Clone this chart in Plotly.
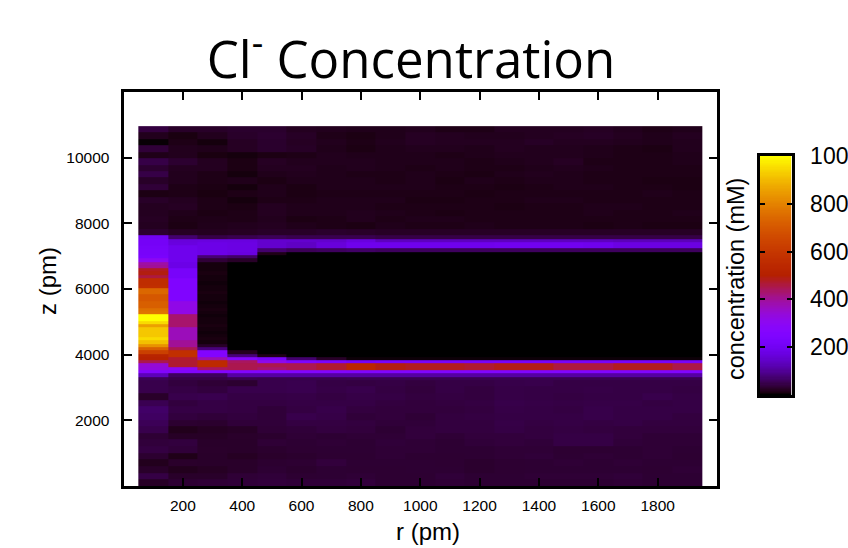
import math
import plotly.graph_objects as go

r_edges = [50, 150, 250, 350, 450, 550, 650, 750, 850, 950, 1050, 1150, 1250, 1350, 1450, 1550, 1650, 1750, 1850, 1950]
z_edges = ([0, 202, 404, 606, 808, 1010, 1212, 1414, 1616, 1818, 2020, 2222, 2424, 2626, 2828, 3030]
           + list(range(3230, 7631, 100))
           + [7826, 8022, 8218, 8414, 8610, 8806, 9002, 9198, 9394, 9590, 9786, 9982, 10178, 10374, 10570, 10766, 10960])

# below the channel, bottom to top, one list per r column
low = [
    [24, 44, 26, 18, 30, 42, 37, 33, 48, 55, 62, 66, 52, 26, 48, 48],
    [32, 26, 18, 27, 15, 36, 39, 24, 17, 30, 39, 44, 39, 48, 44, 39],
    [34, 26, 22, 26, 26, 27, 26, 24, 21, 29, 36, 44, 44, 50, 39, 34],
    [36, 34, 26, 26, 22, 26, 26, 27, 24, 36, 39, 42, 42, 44, 48, 30],
    [38, 36, 32, 30, 27, 29, 34, 29, 34, 36, 36, 36, 42, 44, 48, 48],
    [36, 31, 29, 31, 29, 31, 32, 34, 36, 42, 48, 42, 44, 45, 50, 50],
    [36, 32, 32, 38, 31, 32, 34, 32, 40, 42, 45, 47, 44, 42, 45, 44],
    [38, 34, 31, 32, 31, 32, 32, 34, 38, 40, 36, 40, 44, 45, 48, 42],
    [32, 31, 31, 32, 34, 34, 36, 34, 32, 36, 38, 38, 40, 44, 42, 44],
    [32, 31, 32, 32, 31, 34, 34, 38, 38, 36, 34, 38, 38, 40, 38, 40],
    [34, 36, 32, 31, 31, 32, 32, 34, 40, 40, 40, 38, 40, 42, 44, 44],
    [32, 32, 29, 29, 32, 32, 36, 38, 40, 40, 42, 40, 42, 40, 40, 44],
    [32, 32, 31, 31, 34, 34, 38, 38, 44, 45, 44, 45, 47, 45, 45, 47],
    [32, 34, 32, 32, 36, 34, 36, 40, 40, 42, 44, 44, 45, 44, 44, 48],
    [32, 34, 32, 34, 32, 31, 44, 44, 42, 44, 44, 42, 44, 42, 44, 44],
    [32, 34, 32, 32, 34, 31, 44, 44, 40, 42, 47, 47, 45, 44, 45, 44],
    [34, 36, 32, 34, 32, 32, 36, 38, 38, 44, 44, 44, 45, 44, 44, 44],
    [32, 32, 31, 32, 34, 34, 34, 34, 38, 40, 44, 44, 42, 48, 44, 44],
    [32, 32, 34, 32, 31, 32, 34, 34, 38, 40, 40, 44, 44, 44, 42, 44],
]

# the channel and its two bright bands, bottom to top
band = [
    [55, 130, 260, 330, 340, 450, 510, 520, 630, 720, 830, 910, 950, 920, 920, 920, 855, 950, 1000, 1000,
     770, 760, 720, 720, 700, 700, 740, 740, 570, 560, 560, 460, 490, 480, 400, 390, 300, 230, 220, 220,
     215, 210, 210, 200],
    [45, 60, 260, 300, 470, 470, 470, 570, 570, 450, 400, 400, 370, 370, 370, 370, 430, 430, 430, 430,
     320, 320, 320, 320, 250, 250, 250, 250, 250, 250, 250, 220, 220, 220, 180, 180, 190, 190, 190, 190,
     190, 170, 165, 70],
    [45, 60, 260, 440, 550, 550, 380, 260, 260, 80, 25,
     8, 10, 8, 6, 8, 10, 8, 8, 6, 8, 10, 8, 6, 8, 8, 10, 8, 8, 6, 8, 8, 10, 8, 8, 8,
     35, 75, 180, 180, 180, 180, 170, 45],
    [50, 110, 260, 450, 450, 440, 270, 80, 20] + [0] * 27 + [25, 65, 170, 175, 175, 175, 170, 50],
    [48, 110, 260, 430, 450, 310, 220, 14] + [0] * 30 + [14, 70, 150, 150, 150, 55],
    [48, 110, 260, 450, 450, 240, 70] + [0] * 32 + [55, 140, 140, 150, 50],
    [48, 110, 260, 470, 470, 230, 25] + [0] * 32 + [60, 165, 165, 150, 50],
    [50, 110, 250, 530, 530, 210, 5] + [0] * 32 + [65, 190, 190, 170, 50],
    [50, 110, 255, 490, 490, 220, 5] + [0] * 32 + [60, 190, 190, 135, 45],
    [50, 110, 255, 480, 480, 220, 5] + [0] * 32 + [60, 190, 190, 135, 45],
    [50, 110, 255, 480, 480, 220, 5] + [0] * 32 + [60, 190, 190, 135, 45],
    [50, 110, 255, 470, 470, 220, 5] + [0] * 32 + [60, 190, 190, 135, 45],
    [50, 110, 255, 485, 485, 220, 5] + [0] * 32 + [60, 195, 195, 135, 45],
    [50, 110, 255, 485, 485, 220, 5] + [0] * 32 + [60, 195, 195, 135, 45],
    [50, 110, 255, 460, 460, 220, 5] + [0] * 32 + [60, 195, 195, 135, 45],
    [50, 110, 255, 460, 460, 220, 5] + [0] * 32 + [60, 190, 190, 135, 45],
    [50, 110, 255, 480, 480, 220, 5] + [0] * 32 + [60, 175, 175, 130, 45],
    [50, 110, 255, 480, 480, 220, 5] + [0] * 32 + [60, 175, 175, 130, 45],
    [50, 110, 255, 455, 455, 220, 5] + [0] * 32 + [60, 175, 175, 130, 45],
]

# above the channel, bottom to top
high = [
    [30, 20, 22, 20, 20, 25, 12, 35, 25, 45, 30, 45, 15, 35, 3, 18, 40],
    [22, 12, 14, 16, 22, 20, 14, 14, 18, 18, 20, 30, 18, 18, 14, 10, 25],
    [20, 16, 15, 12, 14, 14, 10, 12, 14, 14, 20, 20, 10, 16, 8, 18, 25],
    [22, 18, 14, 14, 12, 8, 14, 8, 16, 8, 12, 12, 8, 22, 22, 26, 28],
    [25, 20, 18, 20, 20, 14, 16, 16, 12, 16, 20, 22, 12, 28, 28, 30, 28],
    [25, 16, 12, 16, 16, 14, 12, 12, 16, 18, 20, 18, 14, 24, 22, 24, 20],
    [28, 14, 14, 16, 16, 16, 14, 16, 16, 16, 16, 18, 18, 16, 18, 15, 18],
    [26, 12, 18, 18, 16, 16, 14, 16, 16, 14, 18, 18, 16, 12, 14, 12, 16],
    [24, 16, 14, 16, 14, 16, 14, 16, 14, 14, 16, 16, 16, 16, 18, 16, 16],
    [24, 14, 16, 14, 14, 12, 14, 16, 16, 16, 14, 16, 16, 18, 22, 22, 18],
    [24, 14, 16, 12, 14, 12, 14, 14, 12, 14, 16, 16, 14, 18, 20, 20, 14],
    [24, 16, 14, 14, 14, 14, 12, 14, 16, 12, 14, 14, 16, 16, 20, 18, 14],
    [24, 14, 14, 14, 12, 14, 14, 12, 14, 16, 14, 16, 18, 20, 20, 18, 20],
    [24, 14, 14, 14, 14, 16, 14, 14, 16, 18, 16, 18, 18, 18, 24, 20, 20],
    [24, 14, 14, 14, 14, 16, 14, 16, 16, 16, 18, 22, 18, 18, 20, 22, 20],
    [24, 12, 14, 16, 16, 14, 14, 16, 14, 14, 16, 14, 16, 16, 20, 24, 22],
    [24, 14, 14, 14, 16, 14, 14, 14, 14, 14, 14, 14, 14, 14, 18, 20, 18],
    [24, 12, 14, 14, 14, 14, 16, 14, 12, 14, 14, 14, 14, 12, 16, 16, 14],
    [24, 12, 14, 16, 14, 14, 14, 12, 12, 14, 14, 16, 16, 18, 18, 20, 16],
]

x_ticks = [200, 400, 600, 800, 1000, 1200, 1400, 1600, 1800]
y_ticks = [2000, 4000, 6000, 8000, 10000]
bar_ticks = [200, 400, 600, 800, 1000]
bar_levels = list(range(0, 1001, 5))

columns = [a + b + c for a, b, c in zip(low, band, high)]
matrix = [list(row) for row in zip(*columns)]


def pm3d(t):
    """gnuplot's default pm3d palette (rgbformulae 7,5,15)."""
    red = math.sqrt(t)
    green = t ** 3
    blue = max(0.0, math.sin(2 * math.pi * t))
    return f"rgb({round(red * 255)},{round(green * 255)},{round(blue * 255)})"


colorscale = [[i / 100, pm3d(i / 100)] for i in range(101)]

W, H = 848, 548
FONT = "Liberation Sans"

fig = go.Figure()
fig.add_trace(go.Heatmap(
    x=r_edges, y=z_edges, z=matrix, zmin=0, zmax=1000, colorscale=colorscale, zsmooth=False, showscale=False,
))
# colour key: the same palette on its own axes, so ticks sit on both sides of the strip
fig.add_trace(go.Heatmap(
    x=[0, 1], y=bar_levels, z=[[v] for v in bar_levels], xaxis="x2", yaxis="y2",
    zmin=0, zmax=1000, colorscale=colorscale, zsmooth=False, showscale=False,
))

axis_style = dict(
    showgrid=False, zeroline=False, showline=True, linecolor="black", linewidth=3,
    mirror="ticks", ticks="inside", ticklen=8, tickwidth=2, tickcolor="black",
    tickformat="d", tickfont=dict(family=FONT, size=15.5, color="black"),
)
label_font = dict(family=FONT, size=24, color="black")
fig.update_layout(
    width=W, height=H, margin=dict(l=0, r=0, t=0, b=0, autoexpand=False),
    paper_bgcolor="white", plot_bgcolor="white", showlegend=False,
    title=dict(text="Cl<sup>-</sup> Concentration", x=411 / W, xanchor="center",
               y=1 - 60 / H, yanchor="middle", font=dict(family="Open Sans", size=51, color="black")),
    xaxis=dict(range=[0, 2000], domain=[123.5 / W, 717 / W], tickvals=x_ticks, ticklabelstandoff=3, **axis_style),
    yaxis=dict(range=[0, 12000], domain=[(H - 486) / H, (H - 92) / H], tickvals=y_ticks, ticklabelstandoff=8, **axis_style),
    xaxis2=dict(range=[0, 1], domain=[759.5 / W, 791.5 / W], anchor="y2", showgrid=False, zeroline=False,
                showline=True, linecolor="black", linewidth=3, mirror=True, ticks="", showticklabels=False),
    yaxis2=dict(range=[0, 1000], domain=[(H - 395) / H, (H - 156) / H], anchor="x2", side="right",
                showgrid=False, zeroline=False, showline=True, linecolor="black", linewidth=3,
                mirror="ticks", ticks="inside", ticklen=5, tickwidth=2, tickcolor="black",
                tickvals=bar_ticks, tickformat="d", ticklabelstandoff=11,
                tickfont=dict(family=FONT, size=23, color="black")),
    annotations=[
        dict(text="r (pm)", x=428 / W, y=1 - 531 / H, xref="paper", yref="paper", showarrow=False,
             xanchor="center", yanchor="middle", font=label_font),
        dict(text="z (pm)", x=47 / W, y=1 - 281 / H, xref="paper", yref="paper", showarrow=False, textangle=-90,
             xanchor="center", yanchor="middle", font=label_font),
        dict(text="concentration (mM)", x=736 / W, y=1 - 279 / H, xref="paper", yref="paper", showarrow=False,
             textangle=-90, xanchor="center", yanchor="middle", font=dict(family=FONT, size=23.5, color="black")),
    ],
)
fig.write_html("out.html", config={"displayModeBar": False}, post_script="document.body.style.margin='0';")
